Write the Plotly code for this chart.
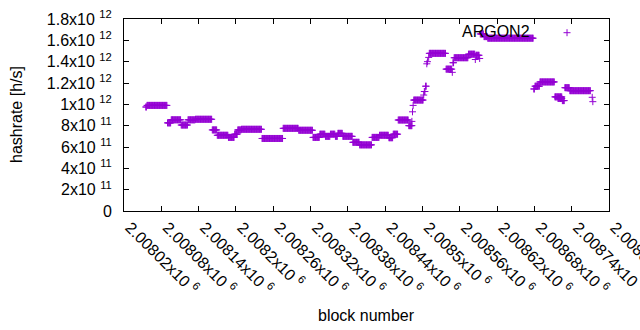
import plotly.graph_objects as go

# Piecewise-constant hashrate estimates
seg_start = [2008055, 2008057, 2008090, 2008096, 2008112, 2008123, 2008135, 2008162,
             2008170, 2008188, 2008198, 2008203, 2008209, 2008242, 2008276, 2008301,
             2008324, 2008335, 2008344, 2008352, 2008360, 2008364, 2008372, 2008388,
             2008399, 2008419, 2008431, 2008446, 2008453, 2008461, 2008478, 2008483,
             2008484, 2008485, 2008486, 2008502, 2008503, 2008505, 2008507, 2008508,
             2008510, 2008511, 2008538, 2008548, 2008549, 2008551, 2008552, 2008574,
             2008585, 2008586, 2008592, 2008593, 2008599, 2008605, 2008679, 2008681,
             2008689, 2008713, 2008718, 2008725, 2008729, 2008737, 2008773, 2008774]
seg_end = [2008056, 2008089, 2008095, 2008111, 2008122, 2008134, 2008161, 2008169,
           2008187, 2008197, 2008202, 2008208, 2008241, 2008275, 2008300, 2008323,
           2008334, 2008343, 2008351, 2008359, 2008363, 2008371, 2008387, 2008398,
           2008418, 2008430, 2008445, 2008452, 2008460, 2008477, 2008483, 2008483,
           2008484, 2008485, 2008501, 2008502, 2008504, 2008506, 2008507, 2008508,
           2008510, 2008537, 2008547, 2008548, 2008550, 2008551, 2008573, 2008584,
           2008585, 2008591, 2008592, 2008598, 2008604, 2008678, 2008680, 2008688,
           2008712, 2008724, 2008724, 2008728, 2008736, 2008770, 2008773, 2008774]
seg_value = [0.975e12, 0.99e12, 0.826e12, 0.855e12, 0.806e12, 0.855e12, 0.86e12, 0.76e12,
             0.71e12, 0.69e12, 0.72e12, 0.76e12, 0.766e12, 0.68e12, 0.775e12, 0.757e12,
             0.69e12, 0.72e12, 0.70e12, 0.72e12, 0.70e12, 0.728e12, 0.70e12, 0.644e12,
             0.62e12, 0.69e12, 0.71e12, 0.687e12, 0.72e12, 0.853e12, 0.80e12, 0.84e12,
             0.93e12, 0.99e12, 1.04e12, 1.087e12, 1.12e12, 1.17e12, 1.38e12, 1.40e12,
             1.44e12, 1.478e12, 1.33e12, 1.30e12, 1.39e12, 1.437e12, 1.437e12, 1.47e12,
             1.42e12, 1.46e12, 1.43e12, 1.66e12, 1.635e12, 1.62e12, 1.144e12, 1.17e12,
             1.21e12, 1.07e12, 1.055e12, 1.035e12, 1.156e12, 1.128e12, 1.066e12, 1.025e12]

x_ticks = [2008020, 2008080, 2008140, 2008200, 2008260, 2008320, 2008380,
           2008440, 2008500, 2008560, 2008620, 2008680, 2008740, 2008800]
x_labels = ["2.00802x10 <sup>6</sup>", "2.00808x10 <sup>6</sup>", "2.00814x10 <sup>6</sup>",
            "2.0082x10 <sup>6</sup>", "2.00826x10 <sup>6</sup>", "2.00832x10 <sup>6</sup>",
            "2.00838x10 <sup>6</sup>", "2.00844x10 <sup>6</sup>", "2.0085x10 <sup>6</sup>",
            "2.00856x10 <sup>6</sup>", "2.00862x10 <sup>6</sup>", "2.00868x10 <sup>6</sup>",
            "2.00874x10 <sup>6</sup>", "2.0088x10 <sup>6</sup>"]
y_ticks = [0, 2e11, 4e11, 6e11, 8e11, 1e12, 1.2e12, 1.4e12, 1.6e12, 1.8e12]
y_labels = ["0", "2x10 <sup>11</sup>", "4x10 <sup>11</sup>", "6x10 <sup>11</sup>",
            "8x10 <sup>11</sup>", "1x10 <sup>12</sup>", "1.2x10 <sup>12</sup>",
            "1.4x10 <sup>12</sup>", "1.6x10 <sup>12</sup>", "1.8x10 <sup>12</sup>"]
series_name = "ARGON2"

blocks, rates = [], []
for s, e, v in zip(seg_start, seg_end, seg_value):
    for b in range(s, e + 1):
        blocks.append(b)
        rates.append(v)

COLOR = "#9400D3"
FONT = "Liberation Sans, Arial, sans-serif"

fig = go.Figure()
fig.add_trace(go.Scatter(
    x=blocks, y=rates, mode="markers", name=series_name, showlegend=False,
    marker=dict(symbol="cross-thin", size=5, color=COLOR,
                line=dict(color=COLOR, width=1)),
))

axis_common = dict(showgrid=False, zeroline=False, showline=True, linecolor="black",
                   linewidth=1, mirror="ticks", ticks="inside", ticklen=5,
                   tickcolor="black", ticklabeloverflow="allow", automargin=False,
                   tickfont=dict(family=FONT, size=16, color="black"))

fig.update_layout(
    width=640, height=330,
    margin=dict(l=124, r=31, t=19, b=119, autoexpand=False),
    paper_bgcolor="white", plot_bgcolor="white",
    font=dict(family=FONT, size=16, color="black"),
    xaxis=dict(range=[2008020, 2008800], tickvals=x_ticks, ticktext=x_labels,
               tickangle=45, ticklabelshift=6, **axis_common),
    yaxis=dict(range=[0, 1.8e12], tickvals=y_ticks, ticktext=y_labels,
               ticklabelstandoff=8, **axis_common),
    annotations=[
        dict(text="block number", xref="paper", yref="paper", x=0.5, y=0,
             yshift=-104, showarrow=False, xanchor="center", yanchor="middle",
             font=dict(family=FONT, size=16)),
        dict(text="hashrate [h/s]", xref="paper", yref="paper", x=0, y=0.5,
             xshift=-108, textangle=-90, showarrow=False, xanchor="center",
             yanchor="middle", font=dict(family=FONT, size=16)),
        dict(text=series_name, xref="paper", yref="paper", x=(532 - 124) / 485.3,
             y=(211 - 31.7) / 192, showarrow=False, xanchor="right", yanchor="middle",
             font=dict(family=FONT, size=16)),
    ],
    shapes=[
        dict(type="line", xref="paper", yref="paper",
             x0=(567.3 - 3.5 - 124) / 485.3, x1=(567.3 + 3.5 - 124) / 485.3,
             y0=(211 - 32.7) / 192, y1=(211 - 32.7) / 192,
             line=dict(color=COLOR, width=1)),
        dict(type="line", xref="paper", yref="paper",
             x0=(567.3 - 124) / 485.3, x1=(567.3 - 124) / 485.3,
             y0=(211 - 32.7 - 3.5) / 192, y1=(211 - 32.7 + 3.5) / 192,
             line=dict(color=COLOR, width=1)),
    ],
)

fig.write_html("out.html", config={"displayModeBar": False},
               post_script="document.body.style.margin='0';")
